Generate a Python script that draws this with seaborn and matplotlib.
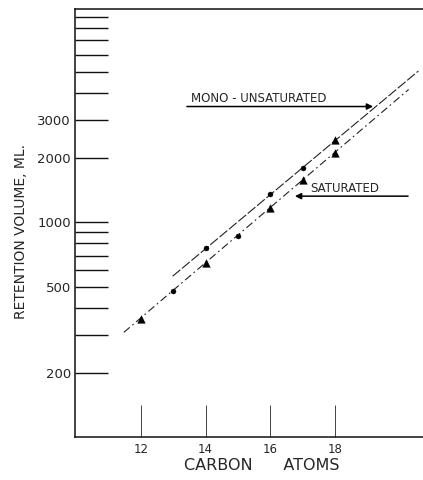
import matplotlib
matplotlib.use('Agg')
import matplotlib.pyplot as plt
import seaborn as sns
import pandas as pd
from matplotlib.ticker import FixedLocator, NullFormatter

# Values
sat_carbons = [12, 13, 14, 15, 16, 17, 18]
sat_volume = [357, 480, 650, 864, 1161, 1571, 2090]
sat_shape = ['tri', 'dot', 'tri', 'dot', 'tri', 'tri', 'tri']

mono_carbons = [14, 16, 17, 18]
mono_volume = [763, 1359, 1795, 2410]
mono_shape = ['dot', 'dot', 'dot', 'tri']

# end points of the fitted lines
mono_line_x = [12.98, 20.58]
mono_line_y = [563, 5040]
sat_line_x = [11.47, 20.28]
sat_line_y = [309, 4140]

x_ticks = [12, 14, 16, 18]
x_ticklabels = ['12', '14', '16', '18']
y_major = [200, 500, 1000, 2000, 3000]
y_major_labels = ['200', '500', '1000', '2000', '3000']
y_minor = [300, 400, 600, 700, 800, 900, 4000, 5000, 6000, 7000, 8000, 9000]

points = pd.DataFrame({
    'carbons': sat_carbons + mono_carbons,
    'volume': sat_volume + mono_volume,
    'shape': sat_shape + mono_shape,
})

sns.set_style('ticks')
plt.rcParams['font.family'] = ['DejaVu Sans']

fig = plt.figure(figsize=(4.23, 4.80), dpi=100)
ax = fig.add_axes([75 / 423, 43 / 480, 348 / 423, 428 / 480])
ax.set_yscale('log')

# fitted lines
sns.lineplot(x=mono_line_x, y=mono_line_y, ax=ax, color='#222222', lw=0.8,
             linestyle=(0, (9, 2)))
sns.lineplot(x=sat_line_x, y=sat_line_y, ax=ax, color='#222222', lw=0.8,
             linestyle=(0, (7, 3, 1.5, 3)))

# points, dots and triangles
for shape, marker, size in [('dot', 'o', 13), ('tri', '^', 30)]:
    sub = points[points['shape'] == shape]
    sns.scatterplot(data=sub, x='carbons', y='volume', marker=marker, s=size,
                    color='black', edgecolor='black', linewidth=0.3, ax=ax,
                    zorder=3)

ax.set_xlim(9.959, 20.723)
ax.set_ylim(101, 9780)

ax.set_xticks(x_ticks)
ax.set_xticklabels(x_ticklabels)
ax.yaxis.set_major_locator(FixedLocator(y_major))
ax.set_yticklabels(y_major_labels)
ax.yaxis.set_minor_locator(FixedLocator(y_minor))
ax.yaxis.set_minor_formatter(NullFormatter())
ax.xaxis.set_minor_locator(FixedLocator([]))

ax.tick_params(axis='y', which='both', direction='in', length=24, width=1.0,
               color='#111111', labelsize=9.5, pad=3)
ax.tick_params(axis='x', which='major', direction='in', length=23, width=0.7,
               color='#444444', labelsize=8.5, pad=4)

for side in ['left', 'top', 'bottom']:
    ax.spines[side].set_linewidth(1.1)
    ax.spines[side].set_color('#111111')
ax.spines['right'].set_visible(False)

# labelled arrows
ax.annotate('', xy=(19.18, 3450), xytext=(13.42, 3450),
            arrowprops=dict(arrowstyle='-|>', color='black', lw=1.1,
                            shrinkA=0, shrinkB=0, mutation_scale=9))
ax.text(13.55, 3640, 'MONO - UNSATURATED', fontsize=8.5, ha='left',
        va='baseline')
ax.annotate('', xy=(16.76, 1324), xytext=(20.26, 1324),
            arrowprops=dict(arrowstyle='-|>', color='black', lw=1.1,
                            shrinkA=0, shrinkB=0, mutation_scale=9))
ax.text(17.23, 1382, 'SATURATED', fontsize=8.5, ha='left', va='baseline')

ax.set_xlabel('CARBON      ATOMS', fontsize=11.5)
ax.xaxis.set_label_coords(0.537, -0.05)
ax.set_ylabel('RETENTION VOLUME, ML.', fontsize=10)
ax.yaxis.set_label_coords(-0.135, 0.481)

fig.savefig('out.png', dpi=100)
